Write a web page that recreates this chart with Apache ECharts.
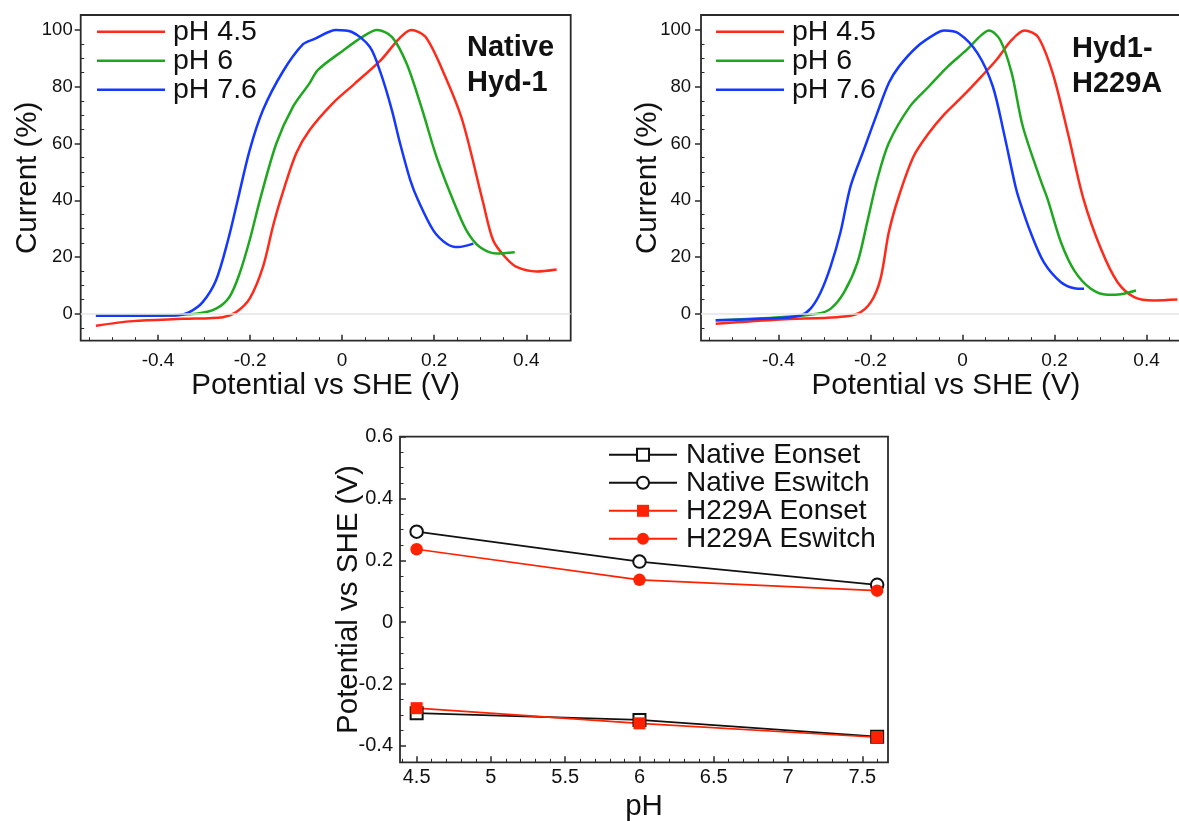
<!DOCTYPE html>
<html><head><meta charset="utf-8">
<script src="https://cdn.jsdelivr.net/npm/echarts@6/dist/echarts.min.js"></script>
<style>html,body{margin:0;padding:0;background:#fff}#c{width:1179px;height:821px}</style>
</head><body><div id="c"></div>
<script>
const FONT = '"Liberation Sans", Arial, Helvetica, sans-serif';

// ---------- Top-left: Native Hyd-1 (x: potential V, y: current %) ----------
const nativePH45 = [[-0.535,-4.2],[-0.455,-2.6],[-0.346,-1.8],[-0.259,-1.2],[-0.230,0.6],[-0.201,5.3],[-0.172,16.5],[-0.150,31],[-0.132,41.2],[-0.100,56.5],[-0.071,64.7],[-0.021,74.1],[0.028,81.2],[0.084,89.4],[0.124,97],[0.150,100],[0.181,97.6],[0.221,84.7],[0.261,68.2],[0.305,40],[0.328,25.9],[0.354,20.0],[0.379,16.5],[0.4225,14.9],[0.466,15.6]];
const nativePH6 = [[-0.535,-0.7],[-0.400,-0.6],[-0.317,0],[-0.274,1.8],[-0.245,5.9],[-0.223,14.1],[-0.201,25.9],[-0.178,40.5],[-0.143,60],[-0.107,72.9],[-0.071,81.2],[-0.053,85.9],[0.003,92.9],[0.044,97.6],[0.076,100],[0.108,97.6],[0.140,88.2],[0.172,72.9],[0.205,55.3],[0.241,40],[0.270,29.4],[0.299,23.5],[0.3355,21.2],[0.375,21.7]];
const nativePH76 = [[-0.535,-0.7],[-0.361,-0.6],[-0.332,0.6],[-0.303,4.1],[-0.274,11.8],[-0.248,25.9],[-0.227,40],[-0.201,57.6],[-0.172,71.8],[-0.129,85.3],[-0.085,95.0],[-0.061,96.8],[-0.013,100],[0.020,99.4],[0.060,94.1],[0.084,84.7],[0.108,71.8],[0.124,61.2],[0.148,47.1],[0.165,40],[0.198,29.4],[0.227,24.7],[0.252,23.5],[0.285,24.7]];

// ---------- Top-right: Hyd1-H229A ----------
const mutantPH45 = [[-0.536,-3.5],[-0.395,-2.0],[-0.272,-1.2],[-0.228,0],[-0.199,4.1],[-0.178,12.3],[-0.160,28.7],[-0.138,41.5],[-0.106,55.5],[-0.073,63.7],[-0.040,70.2],[0.000,76.6],[0.041,83.6],[0.074,89.5],[0.107,96.5],[0.135,99.8],[0.164,97.6],[0.196,84.8],[0.229,63.7],[0.263,40.4],[0.301,22.8],[0.337,11.1],[0.373,5.9],[0.417,4.7],[0.467,5.0]];
const mutantPH6 = [[-0.536,-2.3],[-0.395,-1.2],[-0.315,0],[-0.286,1.8],[-0.257,7.6],[-0.228,18.1],[-0.207,32.2],[-0.185,47.4],[-0.160,60.2],[-0.114,73.1],[-0.073,80.1],[-0.032,87.1],[0.009,93.0],[0.041,98.2],[0.058,99.8],[0.082,96.5],[0.107,84.8],[0.131,66.1],[0.170,47],[0.185,40.4],[0.214,25.2],[0.243,15.2],[0.279,8.8],[0.315,6.7],[0.344,6.9],[0.377,8.2]];
const mutantPH76 = [[-0.536,-2.3],[-0.395,-1.5],[-0.352,-0.6],[-0.330,1.8],[-0.308,7.6],[-0.286,16.9],[-0.265,28.7],[-0.243,45.0],[-0.214,57.9],[-0.185,70.8],[-0.160,81.3],[-0.138,87.1],[-0.098,94.2],[-0.057,98.8],[-0.040,99.8],[-0.008,98.8],[0.033,91.8],[0.066,80.1],[0.090,63.7],[0.115,45.0],[0.123,40.4],[0.148,28.7],[0.177,18.1],[0.214,11.1],[0.243,9.0],[0.264,8.8]];

const curveNames = ['pH 4.5', 'pH 6', 'pH 7.6'];

// ---------- Bottom: potentials vs pH ----------
const pHValues = [4.5, 6, 7.6];
const nativeEonset = [-0.294, -0.316, -0.370];
const nativeEswitch = [0.293, 0.196, 0.121];
const h229aEonset = [-0.278, -0.327, -0.372];
const h229aEswitch = [0.236, 0.137, 0.102];
const bottomNames = ['Native Eonset', 'Native Eswitch', 'H229A Eonset', 'H229A Eswitch'];

// ---------- tick values ----------
const topXMajor = [-0.4, -0.2, 0, 0.2, 0.4];
const topXMinor = [-0.55, -0.5, -0.45, -0.35, -0.3, -0.25, -0.15, -0.1, -0.05, 0.05, 0.1, 0.15, 0.25, 0.3, 0.35, 0.45];
const topYMajor = [0, 20, 40, 60, 80, 100];
const topYMinor = [-5, 5, 10, 15, 25, 30, 35, 45, 50, 55, 65, 70, 75, 85, 90, 95];
const botXMajor = [4.5, 5, 5.5, 6, 6.5, 7, 7.5];
const botXMinor = [4.4, 4.6, 4.7, 4.8, 4.9, 5.1, 5.2, 5.3, 5.4, 5.6, 5.7, 5.8, 5.9, 6.1, 6.2, 6.3, 6.4, 6.6, 6.7, 6.8, 6.9, 7.1, 7.2, 7.3, 7.4, 7.6];
const botYMajor = [-0.4, -0.2, 0, 0.2, 0.4, 0.6];
const botYMinor = [-0.35, -0.3, -0.25, -0.15, -0.1, -0.05, 0.05, 0.1, 0.15, 0.25, 0.3, 0.35, 0.45, 0.5, 0.55];

const RED = '#ff2a1a', GREEN = '#1fa81f', BLUE = '#1438ff';
const curveColors = [RED, GREEN, BLUE];
const AX = '#2a2a2a', TXT = '#111';

function majorX(g, min, max, major, fs, margin, name) {
  return { type: 'value', gridIndex: g, position: 'bottom', min: min, max: max,
    axisLine: { show: false, onZero: false }, splitLine: { show: false },
    axisTick: { show: true, inside: true, length: 6, customValues: major, lineStyle: { color: AX, width: 1.5 } },
    axisLabel: { show: true, customValues: major, fontSize: fs, color: TXT, fontFamily: FONT, margin: margin },
    name: name, nameLocation: 'middle', nameGap: 30, nameMoveOverlap: false,
    nameTextStyle: { fontSize: 29.5, color: TXT, fontFamily: FONT } };
}
function minorX(g, min, max, minor) {
  return { type: 'value', gridIndex: g, position: 'bottom', min: min, max: max,
    axisLine: { show: false, onZero: false }, splitLine: { show: false }, axisLabel: { show: false },
    axisTick: { show: true, inside: true, length: 3.5, customValues: minor, lineStyle: { color: AX, width: 1 } } };
}
function majorY(g, min, max, major, fs, margin, inside, name, gap) {
  return { type: 'value', gridIndex: g, position: 'left', min: min, max: max,
    axisLine: { show: false, onZero: false }, splitLine: { show: false },
    axisTick: { show: true, inside: inside, length: 6, customValues: major, lineStyle: { color: AX, width: 1.5 } },
    axisLabel: { show: true, customValues: major, fontSize: fs, color: TXT, fontFamily: FONT, margin: margin },
    name: name, nameLocation: 'middle', nameGap: gap, nameMoveOverlap: false,
    nameTextStyle: { fontSize: 29.5, color: TXT, fontFamily: FONT } };
}
function minorY(g, min, max, minor) {
  return { type: 'value', gridIndex: g, position: 'left', min: min, max: max,
    axisLine: { show: false, onZero: false }, splitLine: { show: false }, axisLabel: { show: false },
    axisTick: { show: true, inside: true, length: 3.5, customValues: minor, lineStyle: { color: AX, width: 1 } } };
}

const XMIN = -0.568, XMAX = 0.4965, YMIN = -9.5, YMAX = 105.3;
const BXMIN = 4.388, BXMAX = 7.673, BYMIN = -0.453, BYMAX = 0.6;

function curveSeries(name, data, color, axisIdx, withZero) {
  const s = { type: 'line', name: name, data: data, xAxisIndex: axisIdx, yAxisIndex: axisIdx,
    symbol: 'none', showSymbol: false, smooth: 0.3,
    lineStyle: { color: color, width: 2.5 }, itemStyle: { color: color },
    emphasis: { disabled: true }, silent: true };
  if (withZero) {
    s.markLine = { silent: true, symbol: 'none', label: { show: false },
      lineStyle: { color: '#e4e4e4', width: 1.5, type: 'solid' }, data: [{ yAxis: 0 }] };
  }
  return s;
}

const nativeCurves = [nativePH45, nativePH6, nativePH76];
const mutantCurves = [mutantPH45, mutantPH6, mutantPH76];
const series = [];
nativeCurves.forEach((d, i) => series.push(curveSeries(curveNames[i], d, curveColors[i], 0, i === 0)));
mutantCurves.forEach((d, i) => series.push(curveSeries(curveNames[i], d, curveColors[i], 2, i === 0)));

const bottomData = [nativeEonset, nativeEswitch, h229aEonset, h229aEswitch];
const bottomSymbols = ['emptyRect', 'emptyCircle', 'rect', 'circle'];
const bottomColors = ['#111111', '#111111', '#ff2200', '#ff2200'];
bottomData.forEach((vals, i) => {
  series.push({ type: 'line', name: bottomNames[i], xAxisIndex: 4, yAxisIndex: 4,
    data: pHValues.map((p, j) => [p, vals[j]]),
    symbol: bottomSymbols[i], symbolSize: i % 2 === 0 ? 12 : 12.5, showSymbol: true,
    lineStyle: { color: bottomColors[i], width: 1.7 },
    itemStyle: { color: bottomColors[i], borderWidth: 1.5 },
    emphasis: { disabled: true }, silent: true });
});

const gridBase = { show: true, borderColor: AX, borderWidth: 1.8, backgroundColor: 'transparent', containLabel: false, outerBoundsMode: 'none' };

const option = {
  animation: false,
  backgroundColor: '#ffffff',
  textStyle: { fontFamily: FONT },
  grid: [
    Object.assign({ left: 80.7, top: 15, width: 490, height: 325.7 }, gridBase),
    Object.assign({ left: 701, top: 15, width: 490, height: 325.7 }, gridBase),
    Object.assign({ left: 400, top: 436.7, width: 488, height: 325.6 }, gridBase)
  ],
  xAxis: [
    majorX(0, XMIN, XMAX, topXMajor, 19, 11, 'Potential vs SHE (V)'),
    minorX(0, XMIN, XMAX, topXMinor),
    majorX(1, XMIN, XMAX, topXMajor, 19, 11, 'Potential vs SHE (V)'),
    minorX(1, XMIN, XMAX, topXMinor),
    majorX(2, BXMIN, BXMAX, botXMajor, 20, 5, 'pH'),
    minorX(2, BXMIN, BXMAX, botXMinor)
  ],
  yAxis: [
    majorY(0, YMIN, YMAX, topYMajor, 18.5, 8, false, 'Current (%)', 38),
    minorY(0, YMIN, YMAX, topYMinor),
    majorY(1, YMIN, YMAX, topYMajor, 18.5, 10, false, 'Current (%)', 38),
    minorY(1, YMIN, YMAX, topYMinor),
    majorY(2, BYMIN, BYMAX, botYMajor, 20, 7, true, 'Potential vs SHE (V)', 36),
    minorY(2, BYMIN, BYMAX, botYMinor)
  ],
  title: [
    { text: 'Native\nHyd-1', left: 467, top: 30, padding: 0,
      textStyle: { fontSize: 29, fontWeight: 'bold', lineHeight: 35, color: TXT, fontFamily: FONT } },
    { text: 'Hyd1-\nH229A', left: 1072, top: 31, padding: 0,
      textStyle: { fontSize: 29, fontWeight: 'bold', lineHeight: 35, color: TXT, fontFamily: FONT } }
  ],
  legend: [
    { data: curveNames.map(n => ({ name: n, icon: 'rect' })), orient: 'vertical', left: 97, top: 17.2, padding: 0,
      itemWidth: 68, itemHeight: 2.5, itemGap: 0, selectedMode: false,
      textStyle: { fontSize: 28.5, lineHeight: 29, color: TXT, fontFamily: FONT, padding: [0, 0, 0, 3] } },
    { data: curveNames.map(n => ({ name: n, icon: 'rect' })), orient: 'vertical', left: 716, top: 17.2, padding: 0,
      itemWidth: 68, itemHeight: 2.5, itemGap: 0, selectedMode: false,
      textStyle: { fontSize: 28.5, lineHeight: 29, color: TXT, fontFamily: FONT, padding: [0, 0, 0, 3] } },
    { data: bottomNames, orient: 'vertical', left: 608, top: 440.8, padding: 0,
      itemWidth: 68, itemHeight: 15, itemGap: 0, selectedMode: false,
      textStyle: { fontSize: 28, lineHeight: 25, color: TXT, fontFamily: FONT, padding: [0, 0, 0, 4] } }
  ],
  series: series
};

const chart = echarts.init(document.getElementById('c'), null, { renderer: 'canvas' });
chart.setOption(option);
</script>
</body></html>
